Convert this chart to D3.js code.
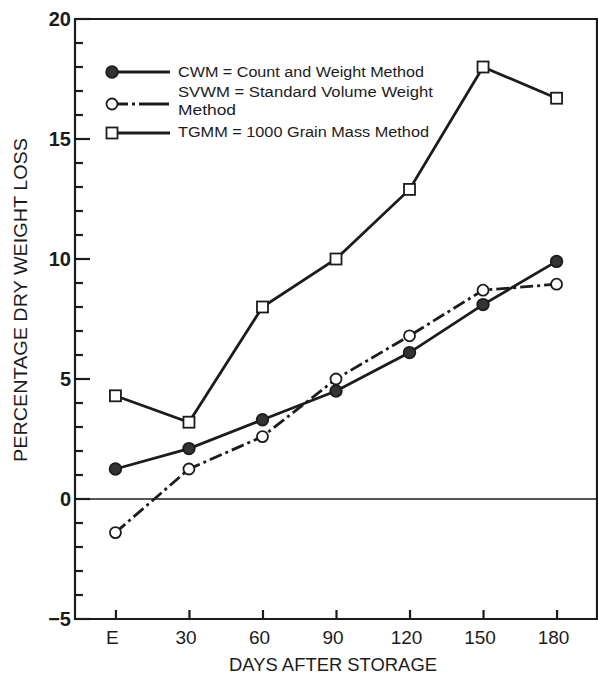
<!DOCTYPE html>
<html>
<head>
<meta charset="utf-8">
<script src="https://cdn.jsdelivr.net/npm/d3@7"></script>
<style>
  html, body { margin: 0; padding: 0; background: #fff; }
  svg { display: block; font-family: "Liberation Sans", Arial, sans-serif; }
</style>
</head>
<body>
<svg id="chart" width="598" height="677"></svg>
<script>
// Storage days (E = at entry) and dry weight loss (%) by method
const days = ["E", "30", "60", "90", "120", "150", "180"];
const cwm  = [1.25, 2.1, 3.3, 4.5, 6.1, 8.1, 9.9];
const svwm = [-1.4, 1.25, 2.6, 5.0, 6.8, 8.7, 8.95];
const tgmm = [4.3, 3.2, 8.0, 10.0, 12.9, 18.0, 16.7];
const yTicks = [-5, 0, 5, 10, 15, 20];
const legendLabels = [
  ["CWM = Count and Weight Method"],
  ["SVWM = Standard Volume Weight", "Method"],
  ["TGMM = 1000 Grain Mass Method"]
];

const ink = "#1c1c1c";
const svg = d3.select("#chart");
const m = { left: 75, right: 597, top: 19, bottom: 619 };

const x = d3.scalePoint().domain(days).range([m.left, m.right]).padding(0.55);
const y = d3.scaleLinear().domain([-5, 20]).range([m.bottom, m.top]);

// frame: left axis, top and right border, bottom axis
const g = svg.append("g");
g.append("path")
  .attr("d", `M${m.left},${m.top}H${m.right}V${m.bottom}H${m.left}Z`)
  .attr("fill", "none").attr("stroke", ink).attr("stroke-width", 2.2);

// y axis ticks: major every 5, minor every unit, pointing inward
const yAll = d3.range(-5, 21);
g.append("g").attr("class", "yticks")
  .selectAll("line").data(yAll).join("line")
  .attr("x1", m.left).attr("x2", d => m.left + (d % 5 === 0 ? 15 : 8))
  .attr("y1", d => y(d)).attr("y2", d => y(d))
  .attr("stroke", ink).attr("stroke-width", 2.2);
g.append("g").attr("class", "ylabels")
  .selectAll("text").data(yTicks).join("text")
  .attr("x", m.left - 4).attr("y", d => y(d)).attr("dy", "0.36em")
  .attr("text-anchor", "end").attr("font-size", 20).attr("font-weight", "bold")
  .attr("fill", ink).text(d => d < 0 ? "\u2212" + Math.abs(d) : d);

// x axis: ticks pointing up, labels below
const xAxis = d3.axisTop(x).tickSize(9).tickFormat("");
g.append("g").attr("transform", `translate(0,${m.bottom})`).call(xAxis)
  .call(s => s.select(".domain").remove())
  .call(s => s.selectAll("line").attr("stroke", ink).attr("stroke-width", 2.2));
g.append("g").attr("class", "xlabels")
  .selectAll("text").data(days).join("text")
  .attr("x", d => x(d) - 3).attr("y", m.bottom + 25)
  .attr("text-anchor", "middle").attr("font-size", 19)
  .attr("fill", ink).text(d => d);

// axis titles
svg.append("text").attr("x", 333).attr("y", 671).attr("text-anchor", "middle")
  .attr("font-size", 18).attr("fill", ink)
  .attr("textLength", 208).attr("lengthAdjust", "spacingAndGlyphs")
  .text("DAYS AFTER STORAGE");
svg.append("text").attr("transform", `translate(27,300) rotate(-90)`)
  .attr("text-anchor", "middle").attr("font-size", 19).attr("fill", ink)
  .attr("textLength", 324).attr("lengthAdjust", "spacingAndGlyphs")
  .text("PERCENTAGE DRY WEIGHT LOSS");

// zero reference line
g.append("line").attr("x1", m.left).attr("x2", m.right)
  .attr("y1", y(0)).attr("y2", y(0)).attr("stroke", ink).attr("stroke-width", 1.6);

// series
const dashDot = "13,4,3,4";
const series = [
  { vals: cwm, dash: null, mark: "dot" },
  { vals: svwm, dash: dashDot, mark: "circle" },
  { vals: tgmm, dash: null, mark: "square" }
];
const line = d3.line().x((d, i) => x(days[i])).y(d => y(d));

function drawMark(sel, kind) {
  if (kind === "square") {
    sel.append("rect").attr("x", -5.5).attr("y", -5.5).attr("width", 11).attr("height", 11)
      .attr("fill", "#fff").attr("stroke", ink).attr("stroke-width", 1.8);
  } else {
    sel.append("circle").attr("r", kind === "dot" ? 5.8 : 5.5)
      .attr("fill", kind === "dot" ? "#333" : "#fff")
      .attr("stroke", ink).attr("stroke-width", 1.8);
  }
}

series.forEach(s => {
  g.append("path").datum(s.vals).attr("d", line)
    .attr("fill", "none").attr("stroke", ink).attr("stroke-width", 2.8)
    .attr("stroke-dasharray", s.dash);
});
series.forEach((s, k) => {
  g.append("g").attr("class", "marks-" + k)
    .selectAll("g").data(s.vals).join("g")
    .attr("transform", (d, i) => `translate(${x(days[i])},${y(d)})`)
    .each(function () { drawMark(d3.select(this), s.mark); });
});

// legend
const legY = [72, 104, 133];
const leg = svg.append("g");
series.forEach((s, i) => {
  const row = leg.append("g").attr("transform", `translate(112,${legY[i]})`);
  row.append("line").attr("x1", 6).attr("x2", 58).attr("y1", 0).attr("y2", 0)
    .attr("stroke", ink).attr("stroke-width", 2.8)
    .attr("stroke-dasharray", s.dash ? "10,4,3,4,30" : null);
  drawMark(row.append("g"), s.mark);
});
const textRows = [
  { t: legendLabels[0][0], y: 77, w: 246 },
  { t: legendLabels[1][0], y: 97, w: 255 },
  { t: legendLabels[1][1], y: 115, w: 58 },
  { t: legendLabels[2][0], y: 137, w: 251 }
];
leg.append("g").selectAll("text").data(textRows).join("text")
  .attr("x", 178).attr("y", d => d.y).attr("font-size", 15.5)
  .attr("textLength", d => d.w).attr("lengthAdjust", "spacingAndGlyphs")
  .attr("fill", ink).text(d => d.t);
</script>
</body>
</html>
